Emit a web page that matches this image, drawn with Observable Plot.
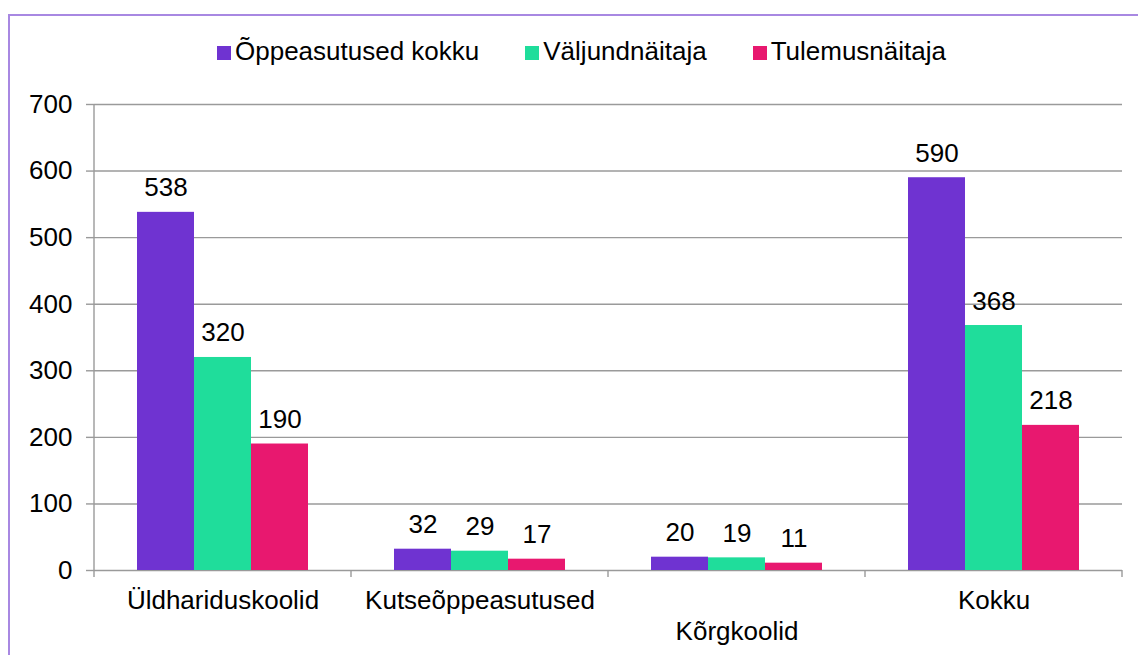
<!DOCTYPE html>
<html>
<head>
<meta charset="utf-8">
<script src="https://cdn.jsdelivr.net/npm/d3@7"></script>
<script src="https://cdn.jsdelivr.net/npm/@observablehq/plot@0.6"></script>
<style>
  html, body { margin: 0; padding: 0; background: #fff; width: 1138px; height: 655px; overflow: hidden; }
  body { font-family: "Liberation Sans", Arial, sans-serif; position: relative; }
  #border { position: absolute; left: 8px; top: 14px; width: 1300px; height: 800px; border: 2px solid #a888e2; box-sizing: border-box; }
  #legend { position: absolute; left: 217px; top: 36px; display: flex; gap: 46px; font-size: 26px; line-height: 30px; color: #000; white-space: nowrap; }
  #legend .item { display: flex; align-items: baseline; }
  #legend .sw { display: inline-block; width: 14px; height: 14px; margin-right: 4px; }
  #chart { position: absolute; left: 0; top: 80px; }
</style>
</head>
<body>
<div id="border"></div>
<div id="legend"></div>
<div id="chart"></div>
<script>
const categories = ["Üldhariduskoolid", "Kutseõppeasutused", "Kõrgkoolid", "Kokku"];
const labelRow = [0, 0, 1, 0];
const series = ["Õppeasutused kokku", "Väljundnäitaja", "Tulemusnäitaja"];
const colors = ["#6f33d1", "#1fdd9b", "#e8186f"];
const oppeasutusedKokku = [538, 32, 20, 590];
const valjundnaitaja = [320, 29, 19, 368];
const tulemusnaitaja = [190, 17, 11, 218];
const yTicks = [0, 100, 200, 300, 400, 500, 600, 700];

const seriesValues = [oppeasutusedKokku, valjundnaitaja, tulemusnaitaja];
const data = [];
categories.forEach((c, i) => {
  series.forEach((s, j) => data.push({cat: c, series: s, value: seriesValues[j][i]}));
});

// legend
const legend = document.getElementById("legend");
series.forEach((s, j) => {
  const item = document.createElement("div");
  item.className = "item";
  const sw = document.createElement("span");
  sw.className = "sw";
  sw.style.background = colors[j];
  const t = document.createElement("span");
  t.textContent = s;
  item.appendChild(sw);
  item.appendChild(t);
  legend.appendChild(item);
});

const font = "'Liberation Sans', Arial, sans-serif";
const gridColor = "#9a9a9a";

const plot = Plot.plot({
  width: 1138,
  height: 575,
  marginTop: 24,
  marginBottom: 85,
  marginLeft: 94,
  marginRight: 16,
  style: {fontFamily: font, fontSize: "26px", color: "#000", background: "transparent", overflow: "visible"},
  fx: {domain: categories, padding: 0, label: null},
  x: {domain: series, paddingInner: 0, paddingOuter: 0.754, axis: null},
  y: {domain: [0, 700], label: null},
  color: {domain: series, range: colors},
  marks: [
    Plot.ruleY(yTicks, {stroke: gridColor, strokeWidth: 1.4}),
    Plot.barY(data, {fx: "cat", x: "series", y: "value", fill: "series"}),
    Plot.text(data, {fx: "cat", x: "series", y: "value", text: d => String(d.value), lineAnchor: "bottom", dy: -16, fontSize: 26, fill: "#000"}),
    Plot.axisY({ticks: yTicks, tickSize: 8, tickPadding: 14, fontSize: 26, stroke: gridColor, strokeWidth: 1.4, tickFormat: d => String(d), label: null}),
    Plot.axisFx({anchor: "bottom", ticks: categories.filter((c, i) => labelRow[i] === 0), tickSize: 0, tickPadding: 20, fontSize: 26, label: null}),
    Plot.axisFx({anchor: "bottom", ticks: categories.filter((c, i) => labelRow[i] === 1), tickSize: 0, tickPadding: 51, fontSize: 26, label: null})
  ]
});
document.getElementById("chart").appendChild(plot);

// axis line and category boundary ticks, placed through the plot's own scales
const fx = plot.scale("fx");
const y = plot.scale("y");
const svg = d3.select(plot);
const y0 = y.apply(0);
const yTop = y.apply(700);
const g = svg.append("g").attr("stroke", gridColor).attr("stroke-width", 1.4);
const bounds = categories.map(c => fx.apply(c)).concat([fx.apply(categories[categories.length - 1]) + fx.bandwidth]);
g.append("line").attr("x1", bounds[0]).attr("x2", bounds[0]).attr("y1", yTop).attr("y2", y0);
bounds.forEach(b => {
  g.append("line").attr("x1", b).attr("x2", b).attr("y1", y0).attr("y2", y0 + 7);
});
</script>
</body>
</html>
